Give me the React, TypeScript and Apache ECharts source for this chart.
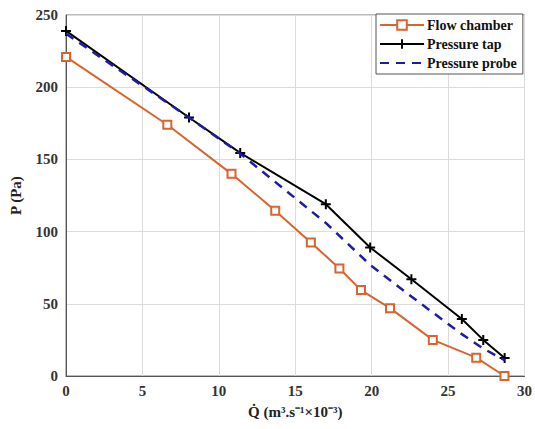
import React, { useEffect, useRef } from "react";
import * as echarts from "echarts";

const flowQ = [0, 6.63, 10.83, 13.69, 16.02, 17.89, 19.3, 21.2, 24.0, 26.84, 28.69];
const flowP = [221, 174, 140, 114.5, 92.5, 74.5, 59.5, 47, 25, 12.7, 0];
const tapQ = [0, 8.05, 11.4, 17.0, 19.9, 22.6, 25.9, 27.3, 28.7];
const tapP = [239, 179, 154.5, 119, 89, 67, 39.5, 25, 12.5];
const probeQ = [0, 8.05, 11.4, 17.0, 19.9, 22.6, 25.9, 27.3, 28.7];
const probeP = [237, 179, 154, 106, 77, 55, 29, 19, 11];

const seriesNames = ["Flow chamber", "Pressure tap", "Pressure probe"];
const xTitle = "Q\u0307 (m\u00b3.s\u207b\u00b9\u00d710\u207b\u00b3)";
const yTitle = "P (Pa)";

const FONT = "'Liberation Serif', 'Times New Roman', serif";
const PLUS = "path://M4,0h2v10h-2z M0,4h10v2h-10z";

function zip(xs: number[], ys: number[]) {
  return xs.map((x, i) => [x, ys[i]]);
}

export default function App() {
  const ref = useRef<HTMLDivElement>(null);
  useEffect(() => {
    document.body.style.margin = "0";
    const chart = echarts.init(ref.current!, null, { renderer: "svg" });
    const axisLabel = { fontFamily: FONT, fontWeight: "bold" as const, fontSize: 15, color: "#333" };
    chart.setOption({
      animation: false,
      backgroundColor: "#fff",
      grid: { left: 65, right: 6, top: 15, bottom: 53, show: true, borderColor: "#777", borderWidth: 1 },
      legend: {
        orient: "vertical",
        left: 376,
        top: 14,
        data: [
          { name: seriesNames[0] },
          { name: seriesNames[1] },
          { name: seriesNames[2], itemStyle: { opacity: 0 } },
        ],
        itemWidth: 44,
        itemHeight: 12,
        itemGap: 5,
        padding: [4, 6, 4, 3],
        backgroundColor: "#fff",
        borderColor: "#555",
        borderWidth: 1,
        borderRadius: 0,
        textStyle: { fontFamily: FONT, fontWeight: "bold", fontSize: 14, color: "#111", padding: [0, 0, 0, -2] },
      },
      xAxis: {
        type: "value",
        min: 0,
        max: 30,
        interval: 5,
        name: xTitle,
        nameLocation: "middle",
        nameGap: 28,
        nameTextStyle: { fontFamily: FONT, fontWeight: "bold", fontSize: 15, color: "#222" },
        axisLine: { show: true, lineStyle: { color: "#555", width: 1 } },
        axisTick: { show: false },
        axisLabel: { ...axisLabel, margin: 7 },
        splitLine: { show: true, lineStyle: { color: "#dcdcdc", width: 1 } },
      },
      yAxis: {
        type: "value",
        min: 0,
        max: 250,
        interval: 50,
        name: yTitle,
        nameLocation: "middle",
        nameGap: 43,
        nameRotate: 90,
        nameTextStyle: { fontFamily: FONT, fontWeight: "bold", fontSize: 15, color: "#222" },
        axisLine: { show: true, lineStyle: { color: "#555", width: 1 } },
        axisTick: { show: false },
        axisLabel: { ...axisLabel, margin: 8 },
        splitLine: { show: true, lineStyle: { color: "#dcdcdc", width: 1 } },
      },
      series: [
        {
          name: seriesNames[0],
          type: "line",
          data: zip(flowQ, flowP),
          symbol: "emptyRect",
          symbolSize: 8,
          lineStyle: { color: "#d8642f", width: 2 },
          itemStyle: { color: "#d8642f", borderWidth: 1.5 },
          z: 3,
        },
        {
          name: seriesNames[1],
          type: "line",
          data: zip(tapQ, tapP),
          symbol: PLUS,
          symbolSize: 10,
          lineStyle: { color: "#000", width: 2 },
          itemStyle: { color: "#000" },
          z: 4,
        },
        {
          name: seriesNames[2],
          type: "line",
          data: zip(probeQ, probeP),
          symbol: "none",
          showSymbol: false,
          lineStyle: { color: "#1c1ca8", width: 2.5, type: [9, 7] },
          itemStyle: { color: "#1c1ca8" },
          z: 5,
        },
      ],
    });
    return () => chart.dispose();
  }, []);
  return <div ref={ref} style={{ width: 535, height: 429 }} />;
}
